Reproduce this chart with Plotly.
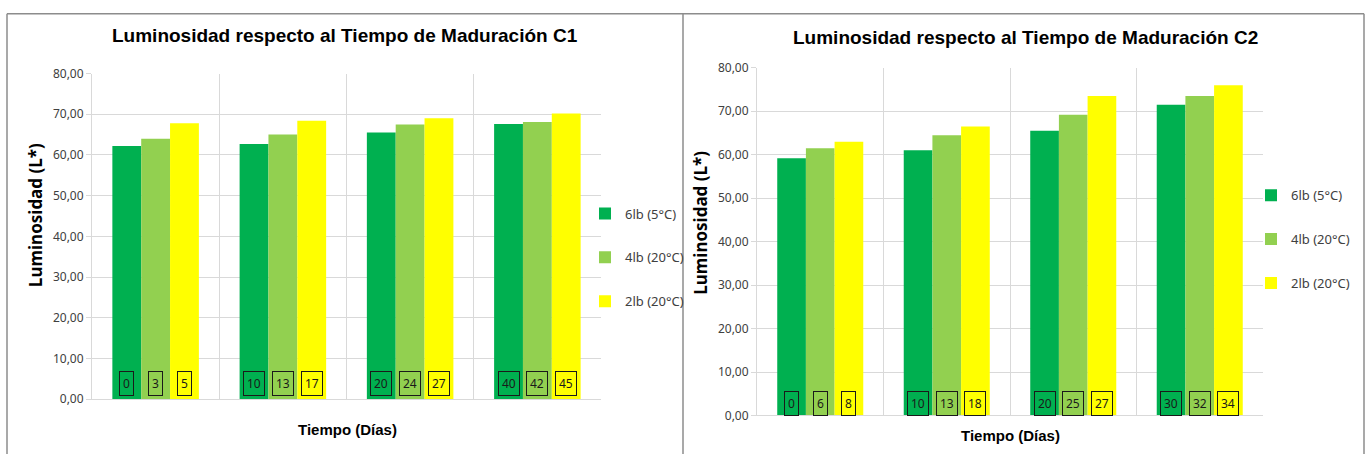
import plotly.graph_objects as go

# ---- data ----
series_names = ["6lb (5°C)", "4lb (20°C)", "2lb (20°C)"]
series_colors = ["#00B050", "#92D050", "#FFFF00"]
groups = [0, 1, 2, 3]

c1_6lb = [62.2, 62.7, 65.5, 67.6]
c1_4lb = [64.0, 65.0, 67.5, 68.1]
c1_2lb = [67.8, 68.4, 69.0, 70.2]
c1_days_6lb = [0, 10, 20, 40]
c1_days_4lb = [3, 13, 24, 42]
c1_days_2lb = [5, 17, 27, 45]

c2_6lb = [59.2, 61.0, 65.5, 71.5]
c2_4lb = [61.5, 64.5, 69.2, 73.5]
c2_2lb = [63.0, 66.5, 73.5, 76.0]
c2_days_6lb = [0, 10, 20, 30]
c2_days_4lb = [6, 13, 25, 32]
c2_days_2lb = [8, 18, 27, 34]

title_c1 = "Luminosidad respecto al Tiempo de Maduración C1"
title_c2 = "Luminosidad respecto al Tiempo de Maduración C2"
x_title = "Tiempo (Días)"
y_title = "Luminosidad (L*)"

BARGAP = 0.32
W, H = 1371, 462

fig = go.Figure()

panels = [
    dict(vals=[c1_6lb, c1_4lb, c1_2lb], days=[c1_days_6lb, c1_days_4lb, c1_days_2lb],
         xa="x", ya="y", legend="legend", label_y=3.8),
    dict(vals=[c2_6lb, c2_4lb, c2_2lb], days=[c2_days_6lb, c2_days_4lb, c2_days_2lb],
         xa="x2", ya="y2", legend="legend2", label_y=2.7),
]

annotations = []
bw = (1 - BARGAP) / 3
for p in panels:
    for k, (name, color, vals, days) in enumerate(zip(series_names, series_colors, p["vals"], p["days"])):
        fig.add_trace(go.Bar(
            x=groups, y=vals, name=name, marker=dict(color=color, line=dict(width=0)),
            xaxis=p["xa"], yaxis=p["ya"], legend=p["legend"], legendgroup=p["legend"] + str(k),
            hoverinfo="skip",
        ))
        for g, d in zip(groups, days):
            annotations.append(dict(
                x=g + (k - 1) * bw, y=p["label_y"], xref=p["xa"], yref=p["ya"],
                text=str(d), showarrow=False,
                font=dict(family="Noto Sans, sans-serif", size=12, color="#1a1a1a"),
                bordercolor="#1a1a1a", borderwidth=1, borderpad=3,
                xanchor="center", yanchor="middle",
            ))

title_font = dict(family="Liberation Sans, Arial, sans-serif", size=19, color="#000000")
axis_title_font = dict(family="Liberation Sans, Arial, sans-serif", size=15, color="#000000")
ytitle_font = dict(family="Noto Sans, sans-serif", size=17, color="#000000")

annotations += [
    dict(x=345 / W, y=1 - 27 / H, xref="paper", yref="paper", text="<b>" + title_c1 + "</b>",
         showarrow=False, font=title_font, xanchor="center", yanchor="middle"),
    dict(x=1025 / W, y=1 - 30 / H, xref="paper", yref="paper", text="<b>" + title_c2 + "</b>",
         showarrow=False, font=title_font, xanchor="center", yanchor="middle"),
    dict(x=347 / W, y=1 - 437 / H, xref="paper", yref="paper", text="<b>" + x_title + "</b>",
         showarrow=False, font=axis_title_font, xanchor="center", yanchor="middle"),
    dict(x=1010 / W, y=1 - 443 / H, xref="paper", yref="paper", text="<b>" + x_title + "</b>",
         showarrow=False, font=axis_title_font, xanchor="center", yanchor="middle"),
    dict(x=35 / W, y=1 - 214 / H, xref="paper", yref="paper", text="<b>" + y_title + "</b>",
         showarrow=False, font=ytitle_font, textangle=-90, xanchor="center", yanchor="middle"),
    dict(x=701 / W, y=1 - 222 / H, xref="paper", yref="paper", text="<b>" + y_title + "</b>",
         showarrow=False, font=ytitle_font, textangle=-90, xanchor="center", yanchor="middle"),
]

grid = "#d9d9d9"
xcommon = dict(range=[-0.5, 3.5], tickvals=[-0.5, 0.5, 1.5, 2.5, 3.5], showticklabels=False,
               showgrid=True, gridcolor=grid, gridwidth=1, zeroline=False, showline=True,
               linecolor=grid, ticks="", fixedrange=True)
ycommon = dict(range=[0, 80], dtick=10, tickformat=".2f", showgrid=True, gridcolor=grid,
               zeroline=False, showline=True, linecolor=grid, ticks="outside", ticklen=5,
               tickcolor=grid, tickfont=dict(family="Noto Sans, sans-serif", size=12, color="#404040"),
               fixedrange=True)

border = dict(color="#8c8c8c", width=1.5)
shapes = [
    dict(type="line", xref="paper", yref="paper", x0=7 / W, x1=1364 / W, y0=1 - 5 / H, y1=1 - 5 / H, line=border),
    dict(type="line", xref="paper", yref="paper", x0=7 / W, x1=7 / W, y0=0, y1=1 - 5 / H, line=border),
    dict(type="line", xref="paper", yref="paper", x0=683 / W, x1=683 / W, y0=0, y1=1 - 5 / H, line=border),
    dict(type="line", xref="paper", yref="paper", x0=1364 / W, x1=1364 / W, y0=0, y1=1 - 5 / H, line=border),
]

legend_common = dict(font=dict(family="Noto Sans, sans-serif", size=13, color="#404040"),
                     tracegroupgap=24, bgcolor="rgba(0,0,0,0)", itemclick=False, itemdoubleclick=False,
                     xanchor="left", yanchor="middle")

fig.update_layout(
    width=W, height=H, autosize=False, margin=dict(l=0, r=0, t=0, b=0),
    paper_bgcolor="white", plot_bgcolor="white",
    separators=",.",
    barmode="group", bargap=BARGAP, bargroupgap=0,
    showlegend=True,
    xaxis=dict(domain=[92 / W, 601 / W], anchor="y", **xcommon),
    yaxis=dict(domain=[1 - 405 / H, 1 - 67 / H], anchor="x", **ycommon),
    xaxis2=dict(domain=[757 / W, 1263 / W], anchor="y2", **xcommon),
    yaxis2=dict(domain=[1 - 422 / H, 1 - 61 / H], anchor="x2", **ycommon),
    legend=dict(x=585 / W, y=1 - 258 / H, **legend_common),
    legend2=dict(x=1251 / W, y=1 - 239 / H, **legend_common),
    annotations=annotations,
    shapes=shapes,
)

post = (
    "document.body.style.margin='0px';"
    "document.body.style.overflow='hidden';"
    "var gd=document.getElementById('{plot_id}');"
    "gd.style.position='fixed';gd.style.left='0px';gd.style.top='0px';"
    "gd.style.width='1371px';gd.style.height='462px';"
    "Plotly.relayout(gd,{width:1371,height:462});"
)

fig.write_html("out.html", config={"displayModeBar": False, "responsive": False}, post_script=post)
